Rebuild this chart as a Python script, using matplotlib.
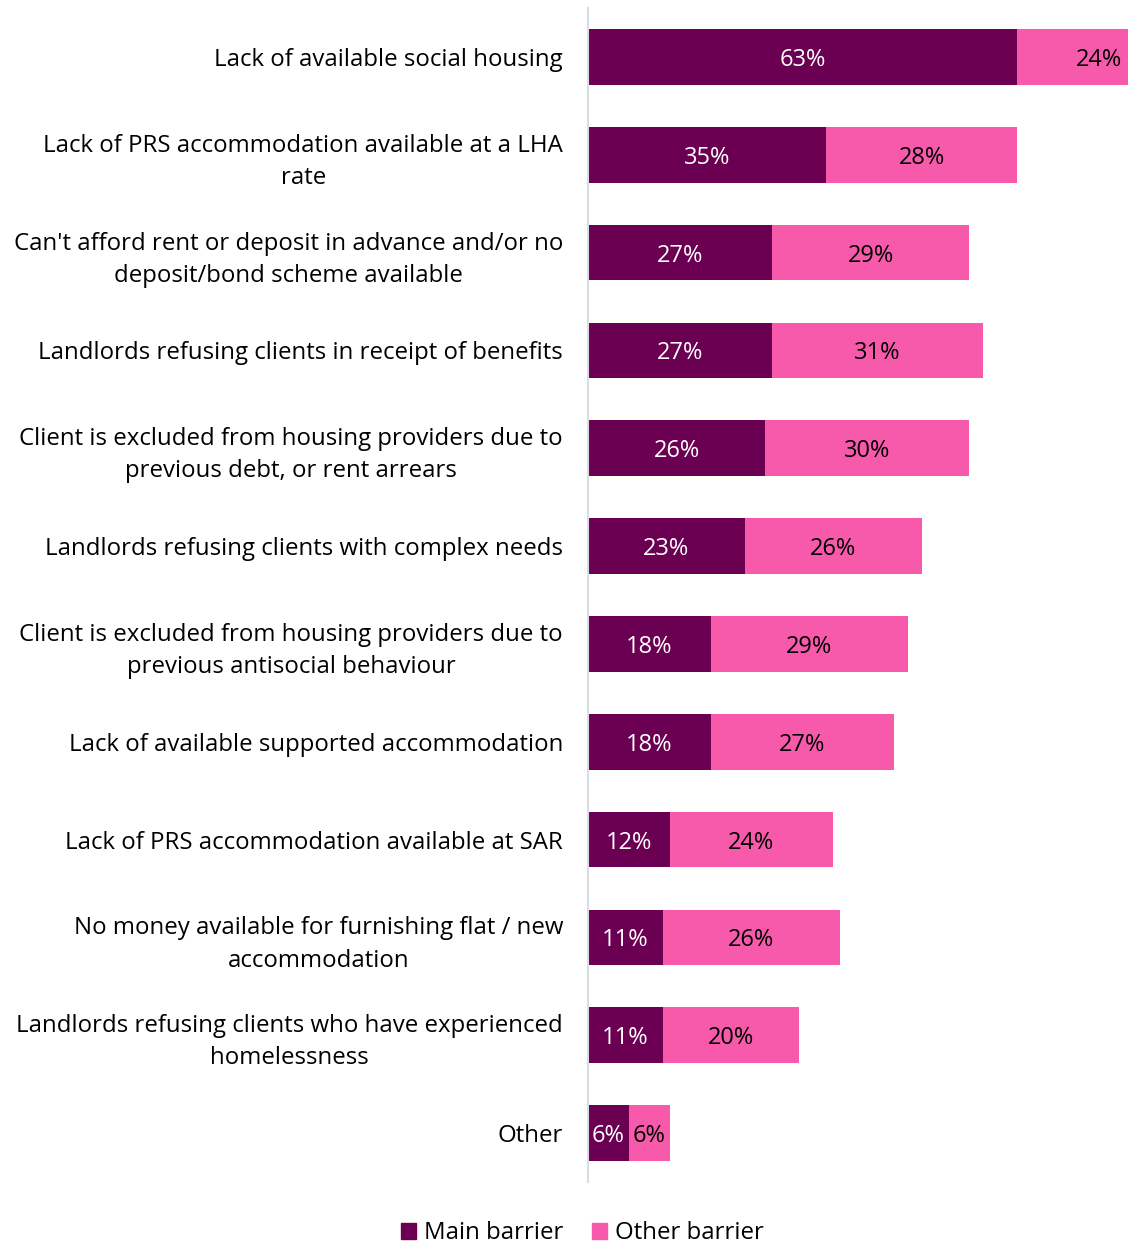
import matplotlib.pyplot as plt
from matplotlib.patches import Patch

plt.rcParams['font.family'] = ['Open Sans', 'DejaVu Sans']

categories = [
    'Lack of available social housing',
    'Lack of PRS accommodation available at a LHA\nrate',
    "Can't afford rent or deposit in advance and/or no\ndeposit/bond scheme available",
    'Landlords refusing clients in receipt of benefits',
    'Client is excluded from housing providers due to\nprevious debt, or rent arrears',
    'Landlords refusing clients with complex needs',
    'Client is excluded from housing providers due to\nprevious antisocial behaviour',
    'Lack of available supported accommodation',
    'Lack of PRS accommodation available at SAR',
    'No money available for furnishing flat / new\naccommodation',
    'Landlords refusing clients who have experienced\nhomelessness',
    'Other',
]
main_barrier = [63, 35, 27, 27, 26, 23, 18, 18, 12, 11, 11, 6]
other_barrier = [24, 28, 29, 31, 30, 26, 29, 27, 24, 26, 20, 6]

dark = '#6b0052'
pink = '#f75aaa'

fig = plt.figure(figsize=(11.28, 12.45), dpi=100)
ax = fig.add_axes([0.5213, 0.0506, 0.4787, 0.943])

y = list(range(len(categories)))
ax.barh(y, main_barrier, height=0.57, color=dark, label='Main barrier')
ax.barh(y, other_barrier, left=main_barrier, height=0.57, color=pink, label='Other barrier')

# segment value labels
for i, (m, o) in enumerate(zip(main_barrier, other_barrier)):
    ax.text(m / 2, i, f'{m}%', ha='center', va='center_baseline', color='white', fontsize=17)
    ax.text(m + o / 2, i, f'{o}%', ha='center', va='center_baseline', color='black', fontsize=17)

ax.set_xlim(0, 79.3)
ax.set_ylim(len(categories) - 0.5, -0.5)
ax.set_yticks(y)
ax.set_yticklabels(categories, fontsize=17.3, multialignment='center', linespacing=1.45)
ax.tick_params(axis='y', length=0, pad=18)
ax.set_xticks([])
for side in ['top', 'right', 'bottom']:
    ax.spines[side].set_visible(False)
ax.spines['left'].set_color('#d9dde3')
ax.spines['left'].set_linewidth(1.5)

handles = [Patch(color=dark, label='Main barrier'), Patch(color=pink, label='Other barrier')]
fig.legend(handles=handles, loc='center', bbox_to_anchor=(0.516, 0.0095), ncol=2,
           frameon=False, fontsize=17.3, handlelength=0.65, handleheight=0.65,
           handletextpad=0.3, columnspacing=1.2)

fig.savefig('out.png', dpi=100)
